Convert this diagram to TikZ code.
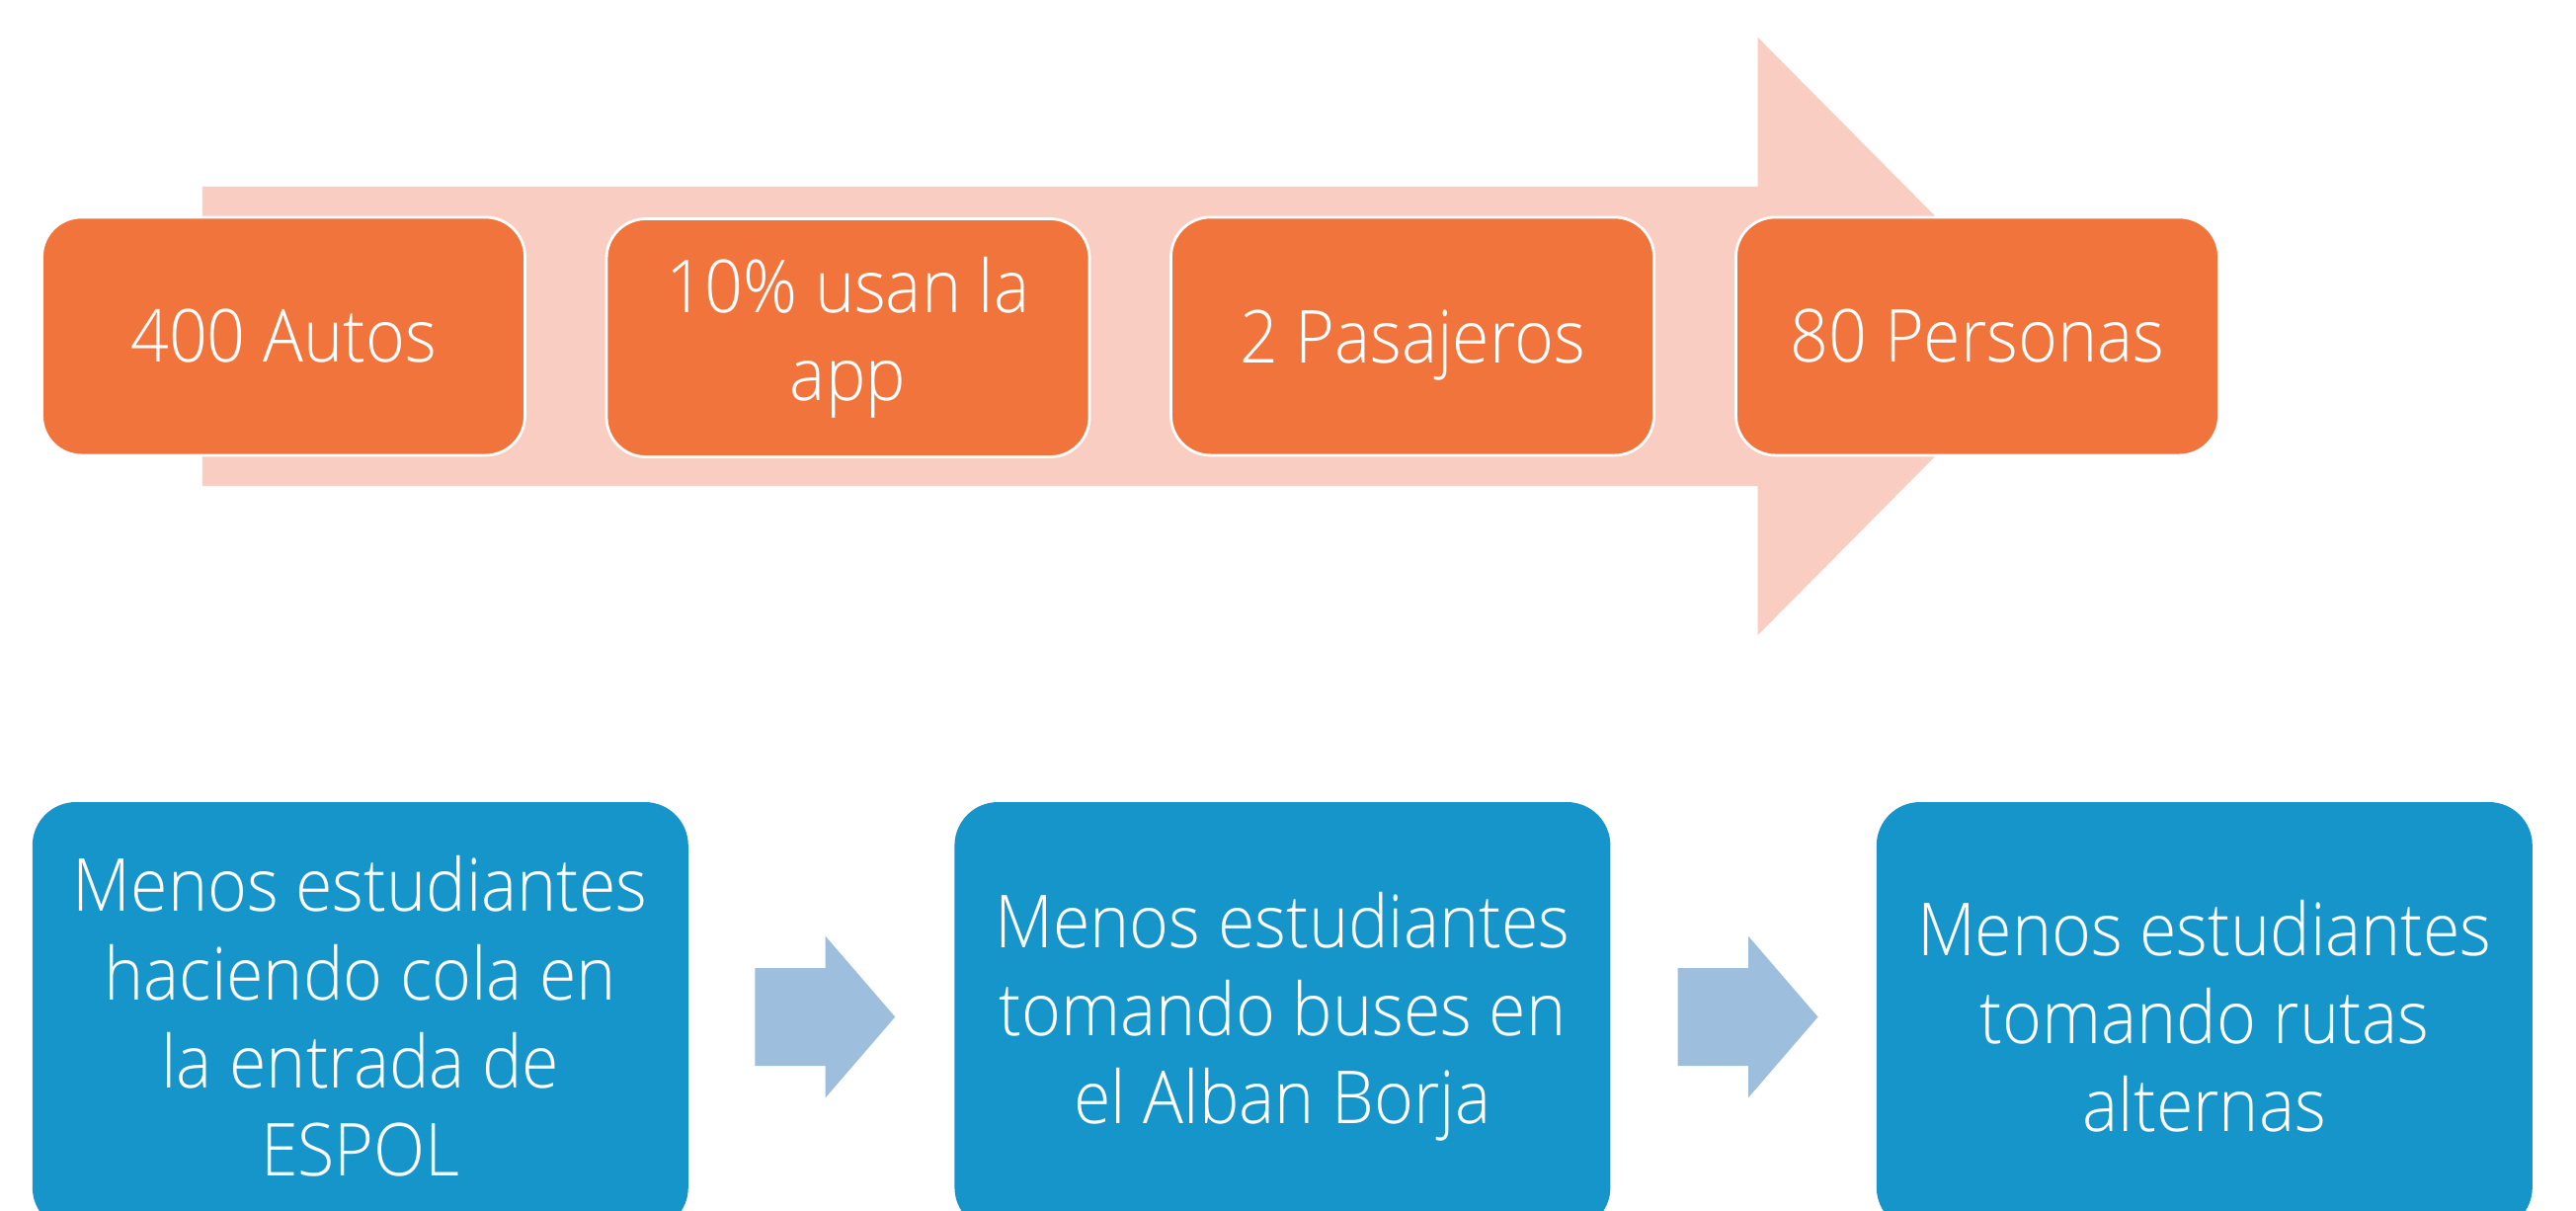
\documentclass[tikz,border=0pt]{standalone}
\usepackage{fontspec}
\setmainfont{Open Sans Light}[FakeStretch=0.92]
\definecolor{bandpink}{HTML}{FACDC2}
\definecolor{boxorange}{HTML}{F2743D}
\definecolor{boxblue}{HTML}{1595C9}
\definecolor{arrowblue}{HTML}{9DBEDC}
\begin{document}
\begin{tikzpicture}[x=0.25pt,y=-0.25pt,
  orangebox/.style={rectangle, rounded corners=10pt, fill=boxorange, draw=white, line width=0.7pt,
    minimum width=122.25pt, minimum height=60.25pt, inner sep=0pt, text=white, align=center,
    font=\fontsize{18.5}{22.3}\selectfont},
  bluebox/.style={rectangle, rounded corners=11pt, fill=boxblue,
    minimum width=166pt, minimum height=108.5pt, inner sep=0pt, text=white, align=center,
    font=\fontsize{18.5}{22.3}\selectfont},
  blockarrow/.style={fill=arrowblue}
]
\useasboundingbox (0,0) rectangle (2608,1225);
% large background arrow
\fill[bandpink] (204.8,188.8) -- (1779.7,188.8) -- (1779.7,37.9) -- (2079.7,340.4)
  -- (1779.7,642.9) -- (1779.7,492) -- (204.8,492) -- cycle;
% orange steps
\node[orangebox] (o1) at (287,340.4) {400 Autos};
\node[orangebox] (o2) at (858.5,342) {10\% usan la\\app};
\node[orangebox, text depth=0pt] (o3) at (1430,340.4) {2 Pasajeros};
\node[orangebox] (o4) at (2002,340.4) {80 Personas};
% blue boxes
\node[bluebox] (b1) at (364.8,1029) {Menos estudiantes\\haciendo cola en\\la entrada de\\ESPOL};
\node[bluebox] (b2) at (1298.4,1029) {Menos estudiantes\\tomando buses en\\el Alban Borja};
\node[bluebox] (b3) at (2231.8,1029) {Menos estudiantes\\tomando rutas\\alternas};
% block arrows between blue boxes
\coordinate (a1) at (764.4,1029.5);
\coordinate (a2) at (1698.7,1029.5);
\foreach \a in {a1,a2}{
  \fill[blockarrow] (\a) ++(0,-49.5) -- ++(71.3,0) -- ++(0,-32.3) -- ++(70.5,81.8)
    -- ++(-70.5,81.8) -- ++(0,-32.3) -- ++(-71.3,0) -- cycle;
}
\end{tikzpicture}
\end{document}
